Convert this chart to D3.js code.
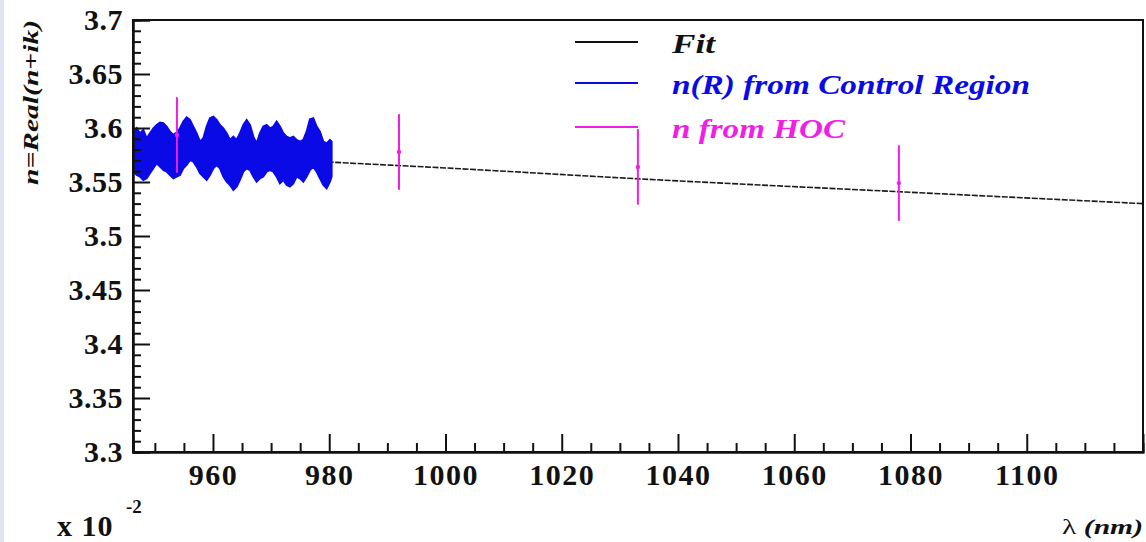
<!DOCTYPE html>
<html>
<head>
<meta charset="utf-8">
<script src="https://cdn.jsdelivr.net/npm/d3@7"></script>
<style>
  html, body { margin: 0; padding: 0; background: #fff; }
  svg { display: block; }
  svg text { font-family: "Liberation Serif", "DejaVu Serif"; font-weight: bold; }
</style>
</head>
<body>
<svg id="chart" width="1146" height="542"></svg>
<script>
// Wavelength (nm) samples of the control-region band
const crLambda = [946.24, 946.30, 946.87, 947.44, 948.02, 948.59, 949.16, 949.74, 950.31, 950.88, 951.46,
  952.03, 952.60, 953.18, 953.75, 954.32, 954.90, 955.47, 956.04, 956.62, 957.19,
  957.76, 958.34, 958.91, 959.48, 960.06, 960.63, 961.20, 961.78, 962.35, 962.92,
  963.50, 964.07, 964.64, 965.22, 965.79, 966.36, 966.94, 967.51, 968.08, 968.66,
  969.23, 969.80, 970.38, 970.95, 971.52, 972.10, 972.67, 973.24, 973.82, 974.39,
  974.96, 975.54, 976.11, 976.68, 977.26, 977.83, 978.40, 978.98, 979.55, 980.12, 980.41];
// Upper edge of the oscillating n(R) band
const crUpper = [3.5982, 3.5951, 3.5997, 3.5951, 3.5982, 3.5905, 3.5951, 3.5997, 3.6028, 3.6050, 3.6044,
  3.6013, 3.5966, 3.5936, 3.5957, 3.5997, 3.6059, 3.6099, 3.6074, 3.6013, 3.5951,
  3.5874, 3.5905, 3.6013, 3.6090, 3.6105, 3.6074, 3.6028, 3.5997, 3.5951, 3.5889,
  3.5920, 3.5889, 3.5951, 3.6028, 3.6074, 3.6028, 3.5920, 3.5858, 3.5951, 3.6013,
  3.6028, 3.5997, 3.6013, 3.6059, 3.6013, 3.5951, 3.5920, 3.5905, 3.5920, 3.5889,
  3.5874, 3.5889, 3.5966, 3.6081, 3.6090, 3.6013, 3.5966, 3.5874, 3.5858, 3.5889, 3.5874];
// Lower edge of the oscillating n(R) band
const crLower = [3.5581, 3.5596, 3.5565, 3.5550, 3.5519, 3.5534, 3.5581, 3.5627, 3.5673, 3.5642, 3.5611,
  3.5596, 3.5565, 3.5534, 3.5550, 3.5565, 3.5627, 3.5658, 3.5704, 3.5689, 3.5642,
  3.5581, 3.5550, 3.5519, 3.5565, 3.5627, 3.5658, 3.5627, 3.5550, 3.5503, 3.5472,
  3.5426, 3.5457, 3.5519, 3.5596, 3.5627, 3.5611, 3.5550, 3.5503, 3.5534, 3.5550,
  3.5596, 3.5611, 3.5596, 3.5550, 3.5488, 3.5519, 3.5472, 3.5457, 3.5488, 3.5550,
  3.5534, 3.5503, 3.5550, 3.5611, 3.5642, 3.5596, 3.5534, 3.5472, 3.5442, 3.5503, 3.5550];

// Fit curve samples
const fitLambda = [946.24, 980, 1000, 1033, 1078, 1120];
const fitValue  = [3.579, 3.5685, 3.563, 3.553, 3.541, 3.530];

// HOC measurements with errors
const hocLambda = [953.8, 992.0, 1033.1, 1078.0];
const hocValue  = [3.5935, 3.5778, 3.564, 3.549];
const hocError  = [0.035, 0.035, 0.035, 0.035];

// Axis ticks
const xTickValues = [960, 980, 1000, 1020, 1040, 1060, 1080, 1100];
const yTickLabels = ["3.3", "3.35", "3.4", "3.45", "3.5", "3.55", "3.6", "3.65", "3.7"];

// Legend entries
const legendLabels = ["Fit", "n(R) from Control Region", "n from HOC"];

const BLUE = "#0a0ae6", MAGENTA = "#f01ee6";

const svg = d3.select("#chart");
const L = 133, R = 1143, T = 20, B = 452;
const x = d3.scaleLinear().domain([946.24, 1120]).range([L, R]);
const y = d3.scaleLinear().domain([3.3, 3.7]).range([B, T]);

// pale strip at the left edge of the canvas
svg.append("rect").attr("x", 0).attr("y", 0).attr("width", 4).attr("height", 542).attr("fill", "#e2e2f6");

svg.append("defs").append("clipPath").attr("id", "plotclip")
  .append("rect").attr("x", L).attr("y", T).attr("width", R - L).attr("height", B - T);

const plot = svg.append("g").attr("clip-path", "url(#plotclip)");

// fit line
const fitData = fitLambda.map((l, i) => [l, fitValue[i]]);
plot.append("path")
  .attr("d", d3.line().x(d => x(d[0])).y(d => y(d[1])).curve(d3.curveMonotoneX)(fitData))
  .attr("fill", "none").attr("stroke", "#1a1a1a").attr("stroke-width", 1.6)
  .attr("stroke-dasharray", "6,1.5");

// control-region band
const crData = crLambda.map((l, i) => ({ l, hi: crUpper[i], lo: crLower[i] }));
plot.append("path")
  .attr("d", d3.area().x(d => x(d.l)).y0(d => y(d.lo)).y1(d => y(d.hi))(crData))
  .attr("fill", BLUE).attr("stroke", BLUE).attr("stroke-width", 2).attr("stroke-linejoin", "miter");

// HOC points with error bars
const hoc = hocLambda.map((l, i) => ({ l, v: hocValue[i], e: hocError[i] }));
plot.selectAll(".err").data(hoc).enter().append("line")
  .attr("x1", d => x(d.l)).attr("x2", d => x(d.l))
  .attr("y1", d => y(d.v + d.e)).attr("y2", d => y(d.v - d.e))
  .attr("stroke", MAGENTA).attr("stroke-width", 2);
plot.selectAll(".pt").data(hoc).enter().append("circle")
  .attr("cx", d => x(d.l)).attr("cy", d => y(d.v)).attr("r", 2.2)
  .attr("fill", MAGENTA);

// frame
svg.append("rect").attr("x", L).attr("y", T).attr("width", R - L).attr("height", B - T)
  .attr("fill", "none").attr("stroke", "#111").attr("stroke-width", 2);

// y axis: major + minor ticks drawn inward
const yMajor = yTickLabels.map(Number);
const yMinor = d3.range(3.30, 3.7001, 0.01).map(v => +v.toFixed(2)).filter(v => !yMajor.some(m => Math.abs(m - v) < 1e-6));
const yAxisG = svg.append("g").attr("transform", `translate(${L},0)`)
  .call(d3.axisLeft(y).tickValues(yMajor).tickSize(-17).tickPadding(10)
    .tickFormat((d, i) => yTickLabels[i]));
svg.append("g").attr("transform", `translate(${L},0)`)
  .call(d3.axisLeft(y).tickValues(yMinor).tickSize(-8).tickFormat(""));

// x axis
const xMinor = d3.range(950, 1120, 5).filter(v => v % 20 !== 0);
const xAxisG = svg.append("g").attr("transform", `translate(0,${B})`)
  .call(d3.axisBottom(x).tickValues(xTickValues).tickSize(-18).tickPadding(12).tickFormat(d3.format("d")));
svg.append("g").attr("transform", `translate(0,${B})`)
  .call(d3.axisBottom(x).tickValues(xMinor).tickSize(-9).tickFormat(""));

svg.selectAll("g").attr("font-family", null);
svg.selectAll(".domain").attr("stroke", "#111").attr("stroke-width", 2);
svg.selectAll(".tick line").attr("stroke", "#111").attr("stroke-width", 2);
svg.selectAll(".tick text").attr("font-size", 30).attr("fill", "#111");
xAxisG.selectAll(".tick text").attr("letter-spacing", 1.5);
yAxisG.selectAll(".tick text").attr("letter-spacing", 0.5);

// axis exponent label and titles
svg.append("text").attr("x", 57).attr("y", 536).attr("font-size", 30).attr("fill", "#111")
  .attr("letter-spacing", 1).text("x 10");
svg.append("text").attr("x", 126).attr("y", 513).attr("font-size", 19).attr("fill", "#111").text("-2");

const xt = svg.append("text").attr("x", 1143).attr("y", 534).attr("text-anchor", "end")
  .attr("font-size", 22).attr("fill", "#111").attr("textLength", 81).attr("lengthAdjust", "spacingAndGlyphs");
xt.append("tspan").attr("font-weight", "normal").text("λ ");
xt.append("tspan").attr("font-style", "italic").text("(nm)");

svg.append("text").attr("transform", "translate(38,20) rotate(-90)")
  .attr("text-anchor", "end").attr("font-size", 22).attr("font-style", "italic").attr("fill", "#111")
  .attr("textLength", 165).attr("lengthAdjust", "spacingAndGlyphs")
  .text("n=Real(n+ik)");

// legend
const legendColors = ["#111", BLUE, MAGENTA];
const legendRowY = [42, 83, 127];
const legendTextLen = [43, 358, 173];
legendLabels.forEach((lab, i) => {
  svg.append("line").attr("x1", 575).attr("x2", 638).attr("y1", legendRowY[i]).attr("y2", legendRowY[i])
    .attr("stroke", legendColors[i]).attr("stroke-width", 2);
  svg.append("text").attr("x", 672).attr("y", legendRowY[i] + 11)
    .attr("font-size", 27).attr("font-style", "italic").attr("fill", legendColors[i])
    .attr("textLength", legendTextLen[i]).attr("lengthAdjust", "spacingAndGlyphs")
    .text(lab);
});
</script>
</body>
</html>
